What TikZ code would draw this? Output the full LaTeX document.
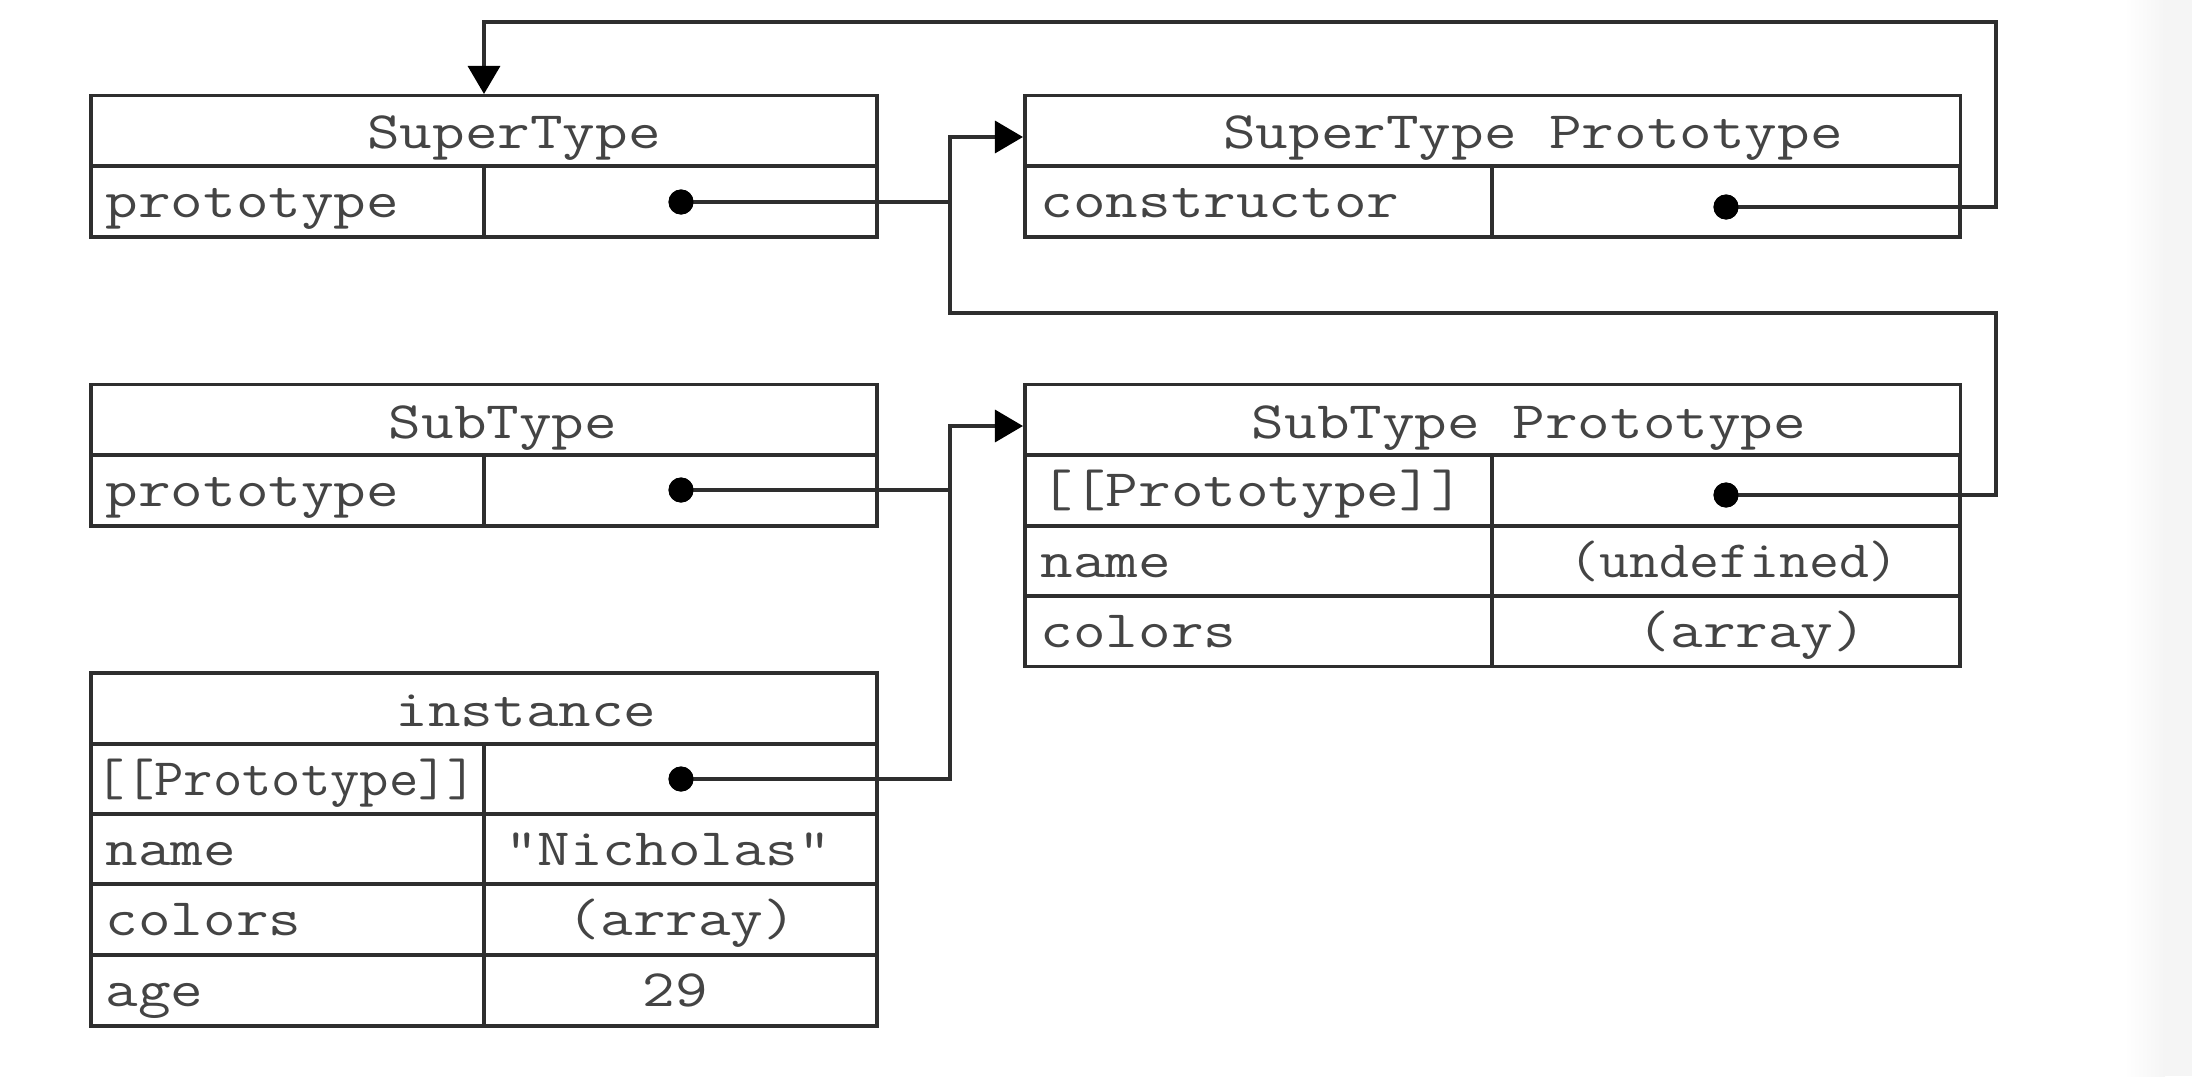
\documentclass[tikz,border=0pt]{standalone}
\usepackage{graphicx}
\usetikzlibrary{arrows.meta}
\definecolor{linec}{HTML}{2E2E2E}
\definecolor{textc}{HTML}{444444}
\newcommand\mono[1]{\scalebox{1}[0.83]{#1}}
\newcommand\monox[2]{\scalebox{#1}[0.83]{#2}}
\begin{document}
\begin{tikzpicture}[x=0.01cm,y=-0.01cm,
  cell/.style={draw=linec,line width=1pt,rectangle,inner sep=0pt,minimum height=0.705cm},
  lcell/.style={cell,minimum width=3.93cm},
  wide/.style={cell,minimum width=7.86cm},
  rkey/.style={cell,minimum width=4.67cm},
  rval/.style={cell,minimum width=4.68cm},
  rwide/.style={cell,minimum width=9.35cm},
  txt/.style={inner sep=0pt,text=textc,font=\fontsize{18pt}{20pt}\selectfont\ttfamily},
  lab/.style={txt,anchor=base west},
  val/.style={txt,anchor=base},
  conn/.style={draw=linec,line width=0.95pt},
  arrowend/.style={-{Triangle[length=0.28cm,width=0.32cm,color=black]}},
  pdot/.style={circle,fill=black,inner sep=0pt,minimum size=0.25cm}]
\useasboundingbox (0,0) rectangle (2192,1076);
\fill[white] (0,0) rectangle (2192,1076);
\shade[left color=white,right color=black!4] (2125,0) rectangle (2165,1076);
\fill[black!4] (2165,0) rectangle (2192,1076);

% SuperType
\node[wide] (stH) at (484,131) {};
\node[lcell] (stK) at (287.5,201.5) {};
\node[lcell] (stV) at (680.5,201.5) {};
% SuperType Prototype
\node[rwide] (stpH) at (1492.5,131) {};
\node[rkey] (stpK) at (1258.5,201.5) {};
\node[rval] (stpV) at (1726,201.5) {};
% SubType
\node[wide] (sbH) at (484,420) {};
\node[lcell] (sbK) at (287.5,490.5) {};
\node[lcell] (sbV) at (680.5,490.5) {};
% SubType Prototype
\node[rwide] (sbpH) at (1492.5,420) {};
\node[rkey] (sbpK1) at (1258.5,490.5) {};
\node[rval] (sbpV1) at (1726,490.5) {};
\node[rkey] (sbpK2) at (1258.5,561) {};
\node[rval] (sbpV2) at (1726,561) {};
\node[rkey] (sbpK3) at (1258.5,631) {};
\node[rval] (sbpV3) at (1726,631) {};
% instance
\node[wide] (inH) at (484,708.5) {};
\node[lcell] (inK1) at (287.5,779) {};
\node[lcell] (inV1) at (680.5,779) {};
\node[lcell] (inK2) at (287.5,849) {};
\node[lcell] (inV2) at (680.5,849) {};
\node[lcell] (inK3) at (287.5,919.5) {};
\node[lcell] (inV3) at (680.5,919.5) {};
\node[lcell] (inK4) at (287.5,990.5) {};
\node[lcell] (inV4) at (680.5,990.5) {};

% texts
\node[val] (tSt) at (514,149) {\mono{SuperType}};
\node[lab] (tStK) at (105,217) {\mono{prototype}};
\node[val] (tStp) at (1533,149) {\mono{SuperType Prototype}};
\node[lab] (tStpK) at (1040,218) {\mono{constructor}};
\node[val] (tSb) at (503,438) {\mono{SubType}};
\node[lab] (tSbK) at (105,506) {\mono{prototype}};
\node[val] (tSbp) at (1529,438) {\mono{SubType Prototype}};
\node[lab] (tSbpK1) at (1040,506) {\mono{[[Prototype]]}};
\node[lab] (tSbpK2) at (1040,577) {\mono{name}};
\node[val] (tSbpV2) at (1734,577) {\monox{0.92}{(undefined)}};
\node[lab] (tSbpK3) at (1040,647) {\mono{colors}};
\node[val] (tSbpV3) at (1752,647) {\mono{(array)}};
\node[val] (tIn) at (526,726) {\mono{instance}};
\node[lab] (tInK1) at (95,795) {\monox{0.9}{[[Prototype]]}};
\node[lab] (tInK2) at (105,865) {\mono{name}};
\node[val] (tInV2) at (668,865) {\mono{"Nicholas"}};
\node[lab] (tInK3) at (105,935.5) {\mono{colors}};
\node[val] (tInV3) at (682,935.5) {\mono{(array)}};
\node[lab] (tInK4) at (105,1006.5) {\mono{age}};
\node[val] (tInV4) at (675,1006.5) {\mono{29}};

% dots
\node[pdot] (d1) at (681,202) {};
\node[pdot] (d2) at (1726,207) {};
\node[pdot] (d3) at (681,490) {};
\node[pdot] (d4) at (1726,495) {};
\node[pdot] (d5) at (681,779) {};

% corner coordinates
\coordinate (j1) at (950,137);
\coordinate (j2) at (950,426);
\coordinate (r1) at (1996,313);
\coordinate (ctr) at (1996,22);

% connectors
\draw[conn,arrowend] (d1.center) -| (j1) -- (j1 -| stpH.west);
\draw[conn] (d4.center) -| (r1) -| (j1);
\draw[conn,arrowend] (d2.center) -| (ctr) -| (stH.north);
\draw[conn] (d3.center) -| (j2);
\draw[conn,arrowend] (d5.center) -| (j2) -- (j2 -| sbpH.west);

% redraw dots on top
\fill[black] (d1) circle (12.5);
\fill[black] (d2) circle (12.5);
\fill[black] (d3) circle (12.5);
\fill[black] (d4) circle (12.5);
\fill[black] (d5) circle (12.5);
\end{tikzpicture}
\end{document}
